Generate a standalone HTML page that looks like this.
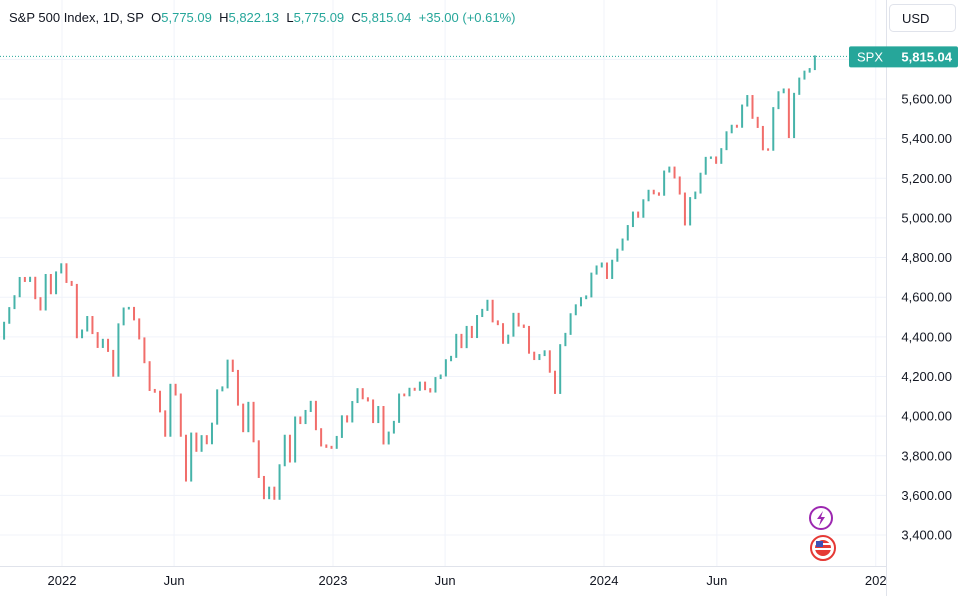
<!DOCTYPE html>
<html><head><meta charset="utf-8"><style>
body{margin:0;background:#fff;font-family:"Liberation Sans",sans-serif;}
#wrap{position:relative;width:962px;height:596px;overflow:hidden;}
.hdr{position:absolute;left:9px;top:10px;font-size:13px;color:#131722;white-space:nowrap;}
.hdr span.v{color:#26a69a;}
</style></head><body>
<div id="wrap">
<svg id="svg" width="962" height="596" style="position:absolute;left:0;top:0"></svg>
<div class="hdr">S&amp;P 500 Index, 1D, SP&nbsp; O<span class="v">5,775.09</span>&nbsp; H<span class="v">5,822.13</span>&nbsp; L<span class="v">5,775.09</span>&nbsp; C<span class="v">5,815.04</span>&nbsp; <span class="v">+35.00 (+0.61%)</span></div>
</div>
<script>
const closes=[4391,4471,4545,4605,4697,4682,4698,4595,4538,4712,4620,4725,4766,
4677,4662,4398,4432,4500,4419,4349,4385,4329,4204,4463,4543,4546,4488,4392,4272,4132,4123,4024,3901,4158,4109,3901,3675,3912,3825,3899,3863,3962,4130,4145,4280,4228,4058,3924,4067,3873,3693,3586,3639,3583,3752,3901,3771,3993,3965,4026,4072,3934,3852,3845,3840,
3895,3999,3973,4071,4136,4090,4079,3970,4046,3862,3917,3971,4109,4105,4138,4133,4169,4136,4124,4192,4205,4282,4299,4410,4348,4450,4399,4505,4536,4582,4478,4464,4370,4406,4516,4457,4450,4320,4288,4308,4327,4224,4117,4358,4415,4514,4559,4595,4604,4719,4755,4770,
4697,4784,4840,4891,4959,5027,5006,5089,5137,5124,5117,5234,5254,5204,5123,4967,5100,5128,5223,5303,5305,5278,5347,5432,5465,5460,5567,5615,5505,5459,5346,5344,5554,5634,5648,5408,5626,5703,5738,5751,5815];
const firstOpen=4360;
const priceTicks=[3400,3600,3800,4000,4200,4400,4600,4800,5000,5200,5400,5600];
const timeLabels=["2022","Jun","2023","Jun","2024","Jun","202"];
const timeDays=[0,151,365,516,730,882,1096];
const startDay=-85;
const lastPrice=5815.04;
const NS="http://www.w3.org/2000/svg";
const svg=document.getElementById('svg');
const yS=v=>99+(5600-v)*0.1982;
const xS=d=>62+d/365*271;
function mk(t,a,p){const e=document.createElementNS(NS,t);for(const k in a)e.setAttribute(k,a[k]);(p||svg).appendChild(e);return e;}
priceTicks.concat([5800]).forEach(v=>{const l=mk('line',{x1:0,x2:886,y1:yS(v),y2:yS(v),stroke:'#f0f3fa'});

});
timeDays.forEach(d=>{const l=mk('line',{x1:xS(d),x2:xS(d),y1:0,y2:566,stroke:'#f0f3fa'});

});
mk('line',{x1:886.5,x2:886.5,y1:0,y2:596,stroke:'#e0e3eb'});
mk('line',{x1:0,x2:886,y1:566.5,y2:566.5,stroke:'#e0e3eb'});
const lp=mk('line',{x1:0,x2:886,y1:yS(lastPrice),y2:yS(lastPrice),stroke:'#26a69a','stroke-dasharray':'1 2'});


let prev=firstOpen;
closes.forEach((c,i)=>{const o=prev;prev=c;
 const x=xS(startDay+7*i);const up=c>=o;const col=up?'#26a69a':'#ef5350';
 const y1=yS(Math.max(o,c)),y2=yS(Math.min(o,c));
 const r=mk('rect',{x:x-1,y:y1-1,width:2,height:Math.max(2,y2-y1+2),fill:col,opacity:0.85});
 
 
});
priceTicks.forEach(v=>{const t=mk('text',{x:952,y:yS(v)+4.5,'text-anchor':'end','font-size':'13',fill:'#131722','font-family':'Liberation Sans'});
t.textContent=v.toLocaleString('en-US',{minimumFractionDigits:2});

});
timeLabels.forEach((s,i)=>{const t=mk('text',{x:xS(timeDays[i]),y:585,'text-anchor':'middle','font-size':'13',fill:'#131722','font-family':'Liberation Sans'});
t.textContent=s;

});
const g=mk('g',{});


mk('rect',{x:849,y:yS(lastPrice)-10,width:109,height:21,rx:2,fill:'#26a69a'},g);
const t1=mk('text',{x:857,y:yS(lastPrice)+5,'font-size':'13',fill:'#fff','font-family':'Liberation Sans'},g);t1.textContent='SPX';
const t2=mk('text',{x:952,y:yS(lastPrice)+5,'text-anchor':'end','font-size':'13','font-weight':'bold',fill:'#fff','font-family':'Liberation Sans'},g);t2.textContent='5,815.04';
const ub=mk('g',{});


mk('rect',{x:889.5,y:4.5,width:66,height:27,rx:4,fill:'#fff',stroke:'#e0e3eb'},ub);
const ut=mk('text',{x:902,y:23,'font-size':'13',fill:'#131722','font-family':'Liberation Sans'},ub);ut.textContent='USD';
const i1=mk('g',{});


mk('circle',{cx:821,cy:518,r:11,fill:'#fff',stroke:'#9c27b0','stroke-width':2},i1);
mk('path',{d:'M823 511 L817 519 L821 519 L819 526 L825 517 L821 517 Z',fill:'#9c27b0'},i1);
const i2=mk('g',{});


mk('circle',{cx:823,cy:548,r:12,fill:'#fff',stroke:'#e53935','stroke-width':2},i2);
mk('circle',{cx:823,cy:548,r:8,fill:'#e53935'},i2);
mk('rect',{x:815,y:543,width:16,height:2,fill:'#fff'},i2);
mk('rect',{x:815,y:548,width:16,height:2,fill:'#fff'},i2);
mk('rect',{x:816,y:541,width:7,height:6,fill:'#3f51b5'},i2);
</script>
</body></html>
